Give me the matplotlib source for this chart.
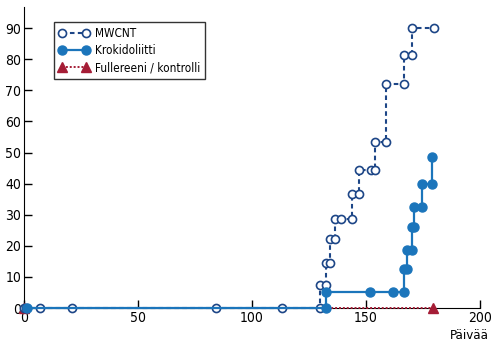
import matplotlib
matplotlib.use("Agg")
import matplotlib.pyplot as plt
from matplotlib import font_manager

# try a narrow / condensed sans face, like the reference
fam, stretch = 'Liberation Sans', 'normal'
for f in font_manager.fontManager.ttflist:
    narrow = ('Narrow' in f.name or 'Condensed' in f.name
              or f.stretch in ('condensed', 'semi-condensed'))
    if narrow and f.style == 'normal' and f.weight in (400, 'normal', 'regular'):
        fam, stretch = f.name, f.stretch
        break
plt.rcParams['font.family'] = [fam, 'DejaVu Sans']
plt.rcParams['font.stretch'] = stretch

# data (days, cumulative %)
mwcnt_x = [0, 1, 7, 21, 84, 113, 130, 130, 132.5, 132.5, 134.3, 134.3, 136.6, 136.6,
           139, 143.8, 143.8, 147, 147, 152, 154, 154, 158.8, 158.8, 166.7, 166.7,
           170.3, 170.3, 179.8]
mwcnt_y = [0, 0, 0, 0, 0, 0, 0, 7.4, 7.4, 14.5, 14.5, 22.2, 22.2, 28.6,
           28.6, 28.6, 36.8, 36.8, 44.4, 44.4, 44.4, 53.5, 53.5, 72.0, 72.0, 81.4,
           81.4, 90.2, 90.2]

kroko_x = [1.5, 132.5, 132.5, 151.8, 162, 166.8, 166.8, 168, 168, 170, 170, 171,
           171, 174.4, 174.4, 178.8, 178.8]
kroko_y = [0, 0, 5.2, 5.2, 5.2, 5.2, 12.4, 12.4, 18.6, 18.6, 25.9, 25.9,
           32.6, 32.6, 39.8, 39.8, 48.6]

fuller_x = [0, 179.6]
fuller_y = [0, 0]

fig = plt.figure(figsize=(4.91, 3.45), dpi=100)
ax = fig.add_axes([24/491, 37/345, 456/491, 301/345])

ax.plot(mwcnt_x, mwcnt_y, color='#1d4687', ls=(0, (2.2, 1.6)), lw=1.5,
        marker='o', ms=5.8, mfc='white', mec='#1d4687', mew=1.2,
        clip_on=False, zorder=4, label='MWCNT')
ax.plot(kroko_x, kroko_y, color='#1b75bb', ls='-', lw=1.6,
        marker='o', ms=6.5, mfc='#1b75bb', mec='#1b75bb',
        clip_on=False, zorder=5, label='Krokidoliitti')
ax.plot(fuller_x, fuller_y, color='#a51d36', ls=(0, (1, 1)), lw=1.4,
        marker='^', ms=6.5, mfc='#a51d36', mec='#a51d36',
        clip_on=False, zorder=3, label='Fullereeni / kontrolli')

ax.set_xlim(0, 200)
ax.set_ylim(0, 96.8)
ax.set_xticks([0, 50, 100, 150, 200])
ax.set_yticks(range(0, 100, 10))
ax.spines['top'].set_visible(False)
ax.spines['right'].set_visible(False)
ax.tick_params(direction='in', length=6, width=1, labelsize=10, pad=2)

# x label sits under the "200", flush with the right edge
fig.text(489/491, 3/345, 'Päivää', fontsize=9.5, ha='right', va='bottom')

leg = ax.legend(loc='upper left', bbox_to_anchor=(0.065, 0.95), fontsize=8.5,
                numpoints=2, handlelength=2.6, fancybox=False, framealpha=1,
                edgecolor='#333333', borderpad=0.4, labelspacing=0.35,
                handletextpad=0.5, borderaxespad=0)
leg.get_frame().set_linewidth(1.0)

fig.savefig('out.png', dpi=100)
